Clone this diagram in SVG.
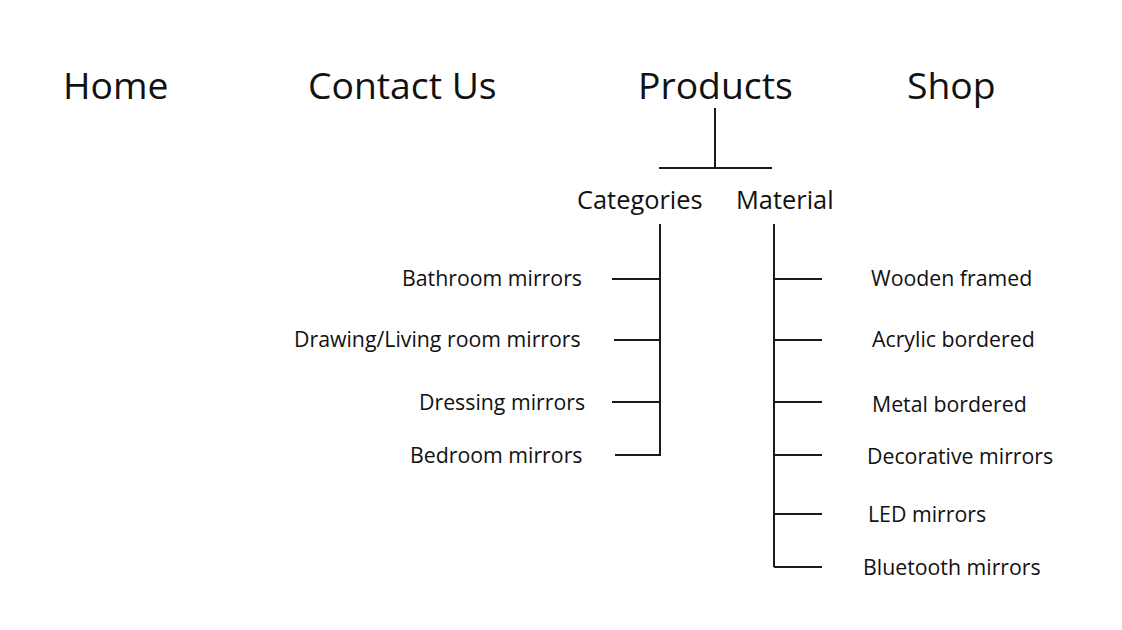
<svg xmlns="http://www.w3.org/2000/svg" width="1122" height="630" viewBox="0 0 1122 630">
<style>
text{font-family:"Open Sans","Noto Sans",sans-serif;fill:#111}
.top{font-size:37.3px}
.mid{font-size:25.4px}
.sub{font-size:21.3px}
.ln{stroke:#1a1a1a;stroke-width:2;fill:none}
</style>
<rect width="1122" height="630" fill="#fff"/>
<g id="home"><text class="top" x="63" y="99">Home</text></g>
<g id="contact"><text class="top" x="308" y="99">Contact Us</text></g>
<g id="products"><text class="top" x="638" y="99">Products</text></g>
<g id="shop"><text class="top" x="907" y="99">Shop</text></g>
<g id="categories"><text class="mid" x="577" y="209">Categories</text></g>
<g id="material"><text class="mid" x="736" y="209">Material</text></g>
<g id="bathroom"><text class="sub" x="402" y="286">Bathroom mirrors</text></g>
<g id="drawing"><text class="sub" x="294" y="347">Drawing/Living room mirrors</text></g>
<g id="dressing"><text class="sub" x="419" y="410">Dressing mirrors</text></g>
<g id="bedroom"><text class="sub" x="410" y="463">Bedroom mirrors</text></g>
<g id="wooden"><text class="sub" x="871" y="286">Wooden framed</text></g>
<g id="acrylic"><text class="sub" x="872" y="347">Acrylic bordered</text></g>
<g id="metal"><text class="sub" x="872" y="412">Metal bordered</text></g>
<g id="decorative"><text class="sub" x="867" y="464">Decorative mirrors</text></g>
<g id="led"><text class="sub" x="868" y="522">LED mirrors</text></g>
<g id="bluetooth"><text class="sub" x="863" y="575">Bluetooth mirrors</text></g>
<g id="connectors" class="ln">
<path d="M715 108V168M659 168H772"/>
<path d="M660 224V456"/>
<path d="M612 279H660M614 340H660M612 402H660M615 455H660"/>
<path d="M774 224V567"/>
<path d="M774 279H822M774 340H822M774 402H822M774 455H822M774 514H822M774 567H822"/>
</g>
</svg>
